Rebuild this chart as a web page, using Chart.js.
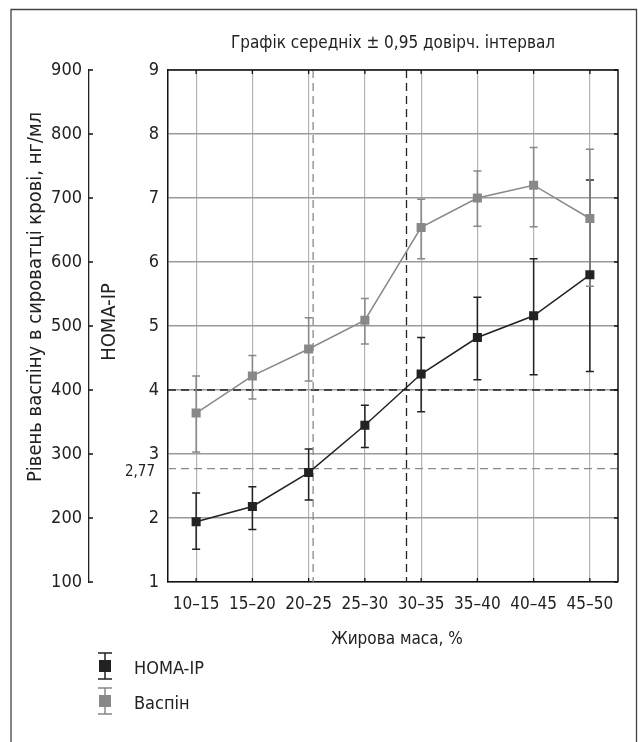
<!DOCTYPE html>
<html>
<head>
<meta charset="utf-8">
<script src="https://cdn.jsdelivr.net/npm/chart.js@4"></script>
<style>
  html, body { margin: 0; padding: 0; background: #fff; }
  #wrap { width: 638px; height: 742px; }
</style>
</head>
<body>
<div id="wrap"><canvas id="c" width="638" height="742"></canvas></div>
<script>
// ---- data ----
const categories = ['10–15', '15–20', '20–25', '25–30', '30–35', '35–40', '40–45', '45–50'];
const homaMean = [1.94, 2.18, 2.71, 3.45, 4.25, 4.82, 5.16, 5.80];
const homaLow  = [1.51, 1.82, 2.28, 3.10, 3.66, 4.16, 4.24, 4.29];
const homaHigh = [2.39, 2.49, 3.08, 3.76, 4.82, 5.45, 6.05, 7.28];
const vaspinMean = [364, 422, 464, 509, 654, 700, 720, 668];
const vaspinLow  = [303, 386, 414, 472, 605, 656, 655, 562];
const vaspinHigh = [422, 454, 513, 543, 698, 742, 779, 776];
const homaRefLevels = [2.77, 4];          // horizontal dashed reference levels (HOMA-IP)
const fatCutIndex = [2.08, 3.74];         // vertical dashed cut-offs (category index units)
const refLabel = '2,77';
const titleText = 'Графік середніх ± 0,95 довірч. інтервал';
const xTitle = 'Жирова маса, %';
const yHomaTitle = 'HOMA-IP';
const yVaspinTitle = 'Рівень васпіну в сироватці крові, нг/мл';
const legendNames = ['HOMA-IP', 'Васпін'];

const FONT = '"DejaVu Sans Condensed", "DejaVu Sans", sans-serif';
const BLACK = '#222222';
const GRAY = '#888888';

Chart.defaults.font.family = FONT;
Chart.defaults.color = BLACK;

function errBar(ctx, x, y1, y2, color, half) {
  ctx.save();
  ctx.strokeStyle = color;
  ctx.lineWidth = 1.5;
  ctx.beginPath();
  ctx.moveTo(x, y1); ctx.lineTo(x, y2);
  ctx.moveTo(x - half, y1); ctx.lineTo(x + half, y1);
  ctx.moveTo(x - half, y2); ctx.lineTo(x + half, y2);
  ctx.stroke();
  ctx.restore();
}

const decor = {
  id: 'decor',
  beforeDraw(chart) {
    const ctx = chart.ctx;
    ctx.save();
    ctx.fillStyle = '#fff';
    ctx.fillRect(0, 0, chart.width, chart.height);
    ctx.restore();
  },
  beforeDatasetsDraw(chart) {
    const ctx = chart.ctx;
    const a = chart.chartArea;
    const xs = chart.scales.x, yH = chart.scales.yH, yV = chart.scales.yV;
    ctx.save();
    ctx.lineWidth = 1.3;
    ctx.setLineDash([8, 5]);
    homaRefLevels.forEach((v, i) => {
      const y = yH.getPixelForValue(v);
      ctx.strokeStyle = i === 0 ? '#8a8a8a' : BLACK;
      ctx.beginPath(); ctx.moveTo(a.left, y); ctx.lineTo(a.right, y); ctx.stroke();
    });
    fatCutIndex.forEach((v, i) => {
      const x = xs.getPixelForValue(v);
      ctx.strokeStyle = i === 0 ? '#8a8a8a' : BLACK;
      ctx.beginPath(); ctx.moveTo(x, a.top); ctx.lineTo(x, a.bottom); ctx.stroke();
    });
    ctx.restore();
    categories.forEach((c, i) => {
      const x = xs.getPixelForValue(i);
      errBar(ctx, x, yH.getPixelForValue(homaHigh[i]), yH.getPixelForValue(homaLow[i]), BLACK, 4);
    });
    categories.forEach((c, i) => {
      const x = xs.getPixelForValue(i);
      errBar(ctx, x, yV.getPixelForValue(vaspinHigh[i]), yV.getPixelForValue(vaspinLow[i]), GRAY, 4);
    });
  },
  afterDraw(chart) {
    const ctx = chart.ctx;
    const a = chart.chartArea;
    const xs = chart.scales.x, yH = chart.scales.yH, yV = chart.scales.yV;
    ctx.save();
    // outer frame
    ctx.strokeStyle = '#444';
    ctx.lineWidth = 1.3;
    ctx.beginPath();
    ctx.moveTo(11, 742); ctx.lineTo(11, 9.5); ctx.lineTo(636.5, 9.5); ctx.lineTo(636.5, 742);
    ctx.stroke();
    // plot top & right borders
    ctx.strokeStyle = '#111';
    ctx.lineWidth = 1.5;
    ctx.beginPath();
    ctx.moveTo(a.left, a.top); ctx.lineTo(a.right, a.top); ctx.lineTo(a.right, a.bottom);
    ctx.stroke();
    // inner tick marks
    ctx.lineWidth = 1.3;
    ctx.beginPath();
    yH.ticks.forEach(t => {
      const y = yH.getPixelForValue(t.value);
      ctx.moveTo(a.right - 4, y); ctx.lineTo(a.right, y);
    });
    categories.forEach((c, i) => {
      const x = xs.getPixelForValue(i);
      ctx.moveTo(x, a.top); ctx.lineTo(x, a.top + 4);
      ctx.moveTo(x, a.bottom); ctx.lineTo(x, a.bottom - 4);
    });
    yV.ticks.forEach(t => {
      const y = yV.getPixelForValue(t.value);
      ctx.moveTo(yV.right, y); ctx.lineTo(yV.right + 4, y);
    });
    ctx.stroke();

    ctx.fillStyle = BLACK;
    ctx.textAlign = 'center';
    ctx.textBaseline = 'middle';
    ctx.font = '17px ' + FONT;
    ctx.fillText(titleText, (a.left + a.right) / 2, 44);
    ctx.fillText(xTitle, (a.left + a.right) / 2 + 4, 640);
    ctx.font = '15px ' + FONT;
    ctx.textAlign = 'right';
    ctx.fillText(refLabel, a.left - 13, yH.getPixelForValue(homaRefLevels[0]) + 3);
    ctx.save();
    ctx.font = '20px ' + FONT;
    ctx.translate(110, 322);
    ctx.rotate(-Math.PI / 2);
    ctx.textAlign = 'center';
    ctx.fillText(yHomaTitle, 0, 0);
    ctx.restore();
    ctx.save();
    ctx.font = '20px ' + FONT;
    ctx.translate(35.5, 297);
    ctx.rotate(-Math.PI / 2);
    ctx.textAlign = 'center';
    ctx.fillText(yVaspinTitle, 0, 0);
    ctx.restore();

    // legend
    ctx.font = '18px ' + FONT;
    const items = [{ name: legendNames[0], color: BLACK, y: 666 }, { name: legendNames[1], color: GRAY, y: 701 }];
    items.forEach(it => {
      errBar(ctx, 105, it.y - 13, it.y + 13, it.color, 7);
      ctx.fillStyle = it.color;
      ctx.fillRect(99, it.y - 6, 12, 12);
      ctx.fillStyle = BLACK;
      ctx.textAlign = 'left';
      ctx.textBaseline = 'middle';
      ctx.fillText(it.name, 134, it.y + 3);
    });
    ctx.restore();
  }
};

new Chart(document.getElementById('c'), {
  type: 'line',
  data: {
    labels: categories,
    datasets: [
      {
        label: legendNames[0],
        data: homaMean,
        yAxisID: 'yH',
        borderColor: BLACK,
        backgroundColor: BLACK,
        borderWidth: 1.5,
        pointStyle: 'rect',
        pointRadius: 6.4,
        pointBorderWidth: 0,
        tension: 0
      },
      {
        label: legendNames[1],
        data: vaspinMean,
        yAxisID: 'yV',
        borderColor: GRAY,
        backgroundColor: GRAY,
        borderWidth: 1.5,
        pointStyle: 'rect',
        pointRadius: 6.4,
        pointBorderWidth: 0,
        tension: 0
      }
    ]
  },
  options: {
    responsive: false,
    animation: false,
    layout: { padding: { top: 70, right: 20, left: 0, bottom: 0 } },
    plugins: { legend: { display: false }, title: { display: false }, tooltip: { enabled: false } },
    scales: {
      x: {
        type: 'category',
        offset: true,
        afterFit: s => { s.height = 160; },
        grid: { offset: false, color: '#b4b4b4', lineWidth: 1.2, drawTicks: false },
        border: { color: '#111', width: 1.5 },
        ticks: { font: { size: 17 }, color: BLACK, padding: 12, maxRotation: 0, autoSkip: false }
      },
      yH: {
        type: 'linear',
        position: 'left',
        weight: 0,
        min: 1, max: 9,
        afterFit: s => { s.width = 79; },
        grid: { color: '#9a9a9a', lineWidth: 1.5, drawTicks: false },
        border: { color: '#111', width: 1.5 },
        ticks: { stepSize: 1, font: { size: 18 }, color: BLACK, padding: 9 }
      },
      yV: {
        type: 'linear',
        position: 'left',
        weight: 1,
        min: 100, max: 900,
        afterFit: s => { s.width = 89; },
        grid: { drawOnChartArea: false, drawTicks: false },
        border: { color: '#222', width: 1.3 },
        ticks: { stepSize: 100, font: { size: 18 }, color: BLACK, padding: 7 }
      }
    }
  },
  plugins: [decor]
});
</script>
</body>
</html>
